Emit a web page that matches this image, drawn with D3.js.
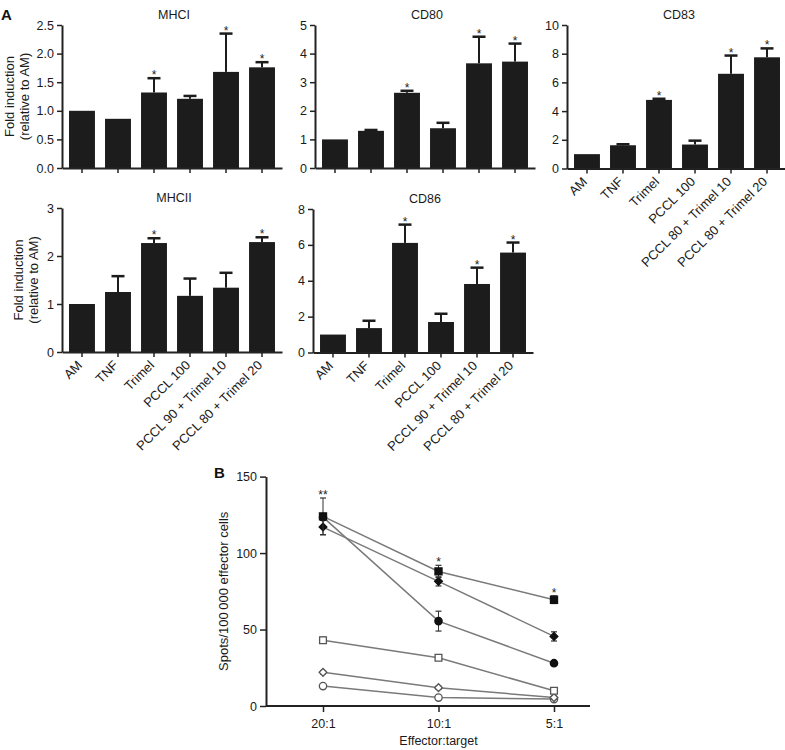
<!doctype html>
<html>
<head>
<meta charset="utf-8">
<style>
  body { margin: 0; background: #fff; }
  svg { display: block; font-family: "Liberation Sans", Arial, sans-serif; }
  .tick text { fill: #1a1a1a; }
</style>
<script src="https://d3js.org/d3.v7.min.js"></script>
</head>
<body>
<svg width="785" height="750"></svg>
<script>
// ---- data, panel A ----
var categories = ["AM", "TNF", "Trimel", "PCCL 100", "PCCL 90 + Trimel 10", "PCCL 80 + Trimel 20"];
var categoriesCD83 = ["AM", "TNF", "Trimel", "PCCL 100", "PCCL 80 + Trimel 10", "PCCL 80 + Trimel 20"];

var mhciValues = [1.0, 0.86, 1.32, 1.21, 1.68, 1.76];
var mhciErrors = [0, 0, 0.25, 0.05, 0.67, 0.09];
var mhciStars  = [0, 0, 1, 0, 1, 1];
var mhciTicks  = [0, 0.5, 1.0, 1.5, 2.0, 2.5];

var cd80Values = [1.0, 1.30, 2.63, 1.39, 3.66, 3.72];
var cd80Errors = [0, 0.03, 0.07, 0.19, 0.93, 0.63];
var cd80Stars  = [0, 0, 1, 0, 1, 1];
var cd80Ticks  = [0, 1, 2, 3, 4, 5];

var cd83Values = [1.0, 1.62, 4.78, 1.67, 6.6, 7.75];
var cd83Errors = [0, 0.07, 0.08, 0.27, 1.27, 0.62];
var cd83Stars  = [0, 0, 1, 0, 1, 1];
var cd83Ticks  = [0, 2, 4, 6, 8, 10];

var mhciiValues = [1.0, 1.25, 2.27, 1.17, 1.34, 2.29];
var mhciiErrors = [0, 0.33, 0.10, 0.36, 0.31, 0.10];
var mhciiStars  = [0, 0, 1, 0, 0, 1];
var mhciiTicks  = [0, 1, 2, 3];

var cd86Values = [1.0, 1.36, 6.11, 1.70, 3.82, 5.57];
var cd86Errors = [0, 0.41, 1.02, 0.46, 0.91, 0.56];
var cd86Stars  = [0, 0, 1, 0, 1, 1];
var cd86Ticks  = [0, 2, 4, 6, 8];

// ---- data, panel B ----
var ratios = ["20:1", "10:1", "5:1"];
var bTicks = [0, 50, 100, 150];
var filledCircle  = [123.5, 55.5, 28];   var filledCircleErr  = [2, 6.5, 1.5];
var filledSquare  = [124, 88, 69.5];     var filledSquareErr  = [12, 4, 2.5];
var filledDiamond = [117, 81.5, 45.5];   var filledDiamondErr = [5, 3, 3];
var openSquare    = [43, 31.5, 10];      var openSquareErr    = [2, 1.5, 1.5];
var openDiamond   = [22, 12, 5.5];       var openDiamondErr   = [1, 1, 1];
var openCircle    = [13, 5.5, 4.5];      var openCircleErr    = [1, 1, 0.5];
var bStars = ["**", "*", "*"];

var svg = d3.select("svg");

function barPanel(o) {
    var g = svg.append("g");
    var x = d3.scaleBand().domain(o.cats).range([o.left, o.left + 220])
        .paddingInner(0.28).paddingOuter(0.195);
    var y = d3.scaleLinear().domain([0, o.max]).range([o.bottom, o.top]);

    // bars
    g.selectAll(".bar").data(o.values).enter().append("rect")
        .attr("x", function(d, i) { return x(o.cats[i]); })
        .attr("y", function(d) { return y(d); })
        .attr("width", x.bandwidth())
        .attr("height", function(d) { return o.bottom - y(d); })
        .attr("fill", "#1c1c1c");

    // error bars (upper only)
    var cap = 6.5;
    o.values.forEach(function(v, i) {
        var cx = x(o.cats[i]) + x.bandwidth() / 2;
        if (o.errors[i] > 0) {
            g.append("line").attr("x1", cx).attr("x2", cx)
                .attr("y1", y(v)).attr("y2", y(v + o.errors[i]))
                .attr("stroke", "#1c1c1c").attr("stroke-width", 2);
            g.append("line").attr("x1", cx - cap).attr("x2", cx + cap)
                .attr("y1", y(v + o.errors[i])).attr("y2", y(v + o.errors[i]))
                .attr("stroke", "#1c1c1c").attr("stroke-width", 2.5);
        }
        if (o.stars[i]) {
            g.append("text").attr("x", cx).attr("y", y(v + o.errors[i]) + 1)
                .attr("text-anchor", "middle").attr("font-size", "12px")
                .attr("fill", "#222").text("*");
        }
    });

    // axes
    var ya = g.append("g").attr("transform", "translate(" + o.left + ",0)")
        .call(d3.axisLeft(y).tickValues(o.ticks).tickFormat(d3.format(o.fmt))
            .tickSize(5).tickSizeOuter(0));
    var xa = g.append("g").attr("transform", "translate(0," + o.bottom + ")")
        .call(d3.axisBottom(x).tickSize(5).tickSizeOuter(0));
    [ya, xa].forEach(function(a) {
        a.select(".domain").attr("stroke", "#222").attr("stroke-width", 2);
        a.selectAll(".tick line").attr("stroke", "#222").attr("stroke-width", 1.5);
    });
    ya.selectAll(".tick text").attr("font-size", "12.5px").attr("font-family", null).attr("x", -8);
    if (o.labels) {
        xa.selectAll(".tick text")
            .attr("font-size", "13px").attr("font-family", null)
            .attr("text-anchor", "end")
            .attr("dy", null).attr("y", 0)
            .attr("transform", "translate(1,14) rotate(-45)");
    } else {
        xa.selectAll(".tick text").remove();
    }

    g.append("text").attr("x", o.left + 112).attr("y", o.top - 6)
        .attr("text-anchor", "middle").attr("font-size", "12.5px").attr("fill", "#1a1a1a")
        .text(o.title);

    if (o.ylab) {
        var cy = (o.top + o.bottom) / 2;
        g.append("text").attr("transform", "translate(" + o.ylab[0] + "," + cy + ") rotate(-90)")
            .attr("text-anchor", "middle").attr("font-size", "13px").attr("fill", "#1a1a1a")
            .text("Fold induction");
        g.append("text").attr("transform", "translate(" + o.ylab[1] + "," + cy + ") rotate(-90)")
            .attr("text-anchor", "middle").attr("font-size", "13px").attr("fill", "#1a1a1a")
            .text("(relative to AM)");
    }
}

barPanel({title: "MHCI", cats: categories, values: mhciValues, errors: mhciErrors, stars: mhciStars,
    ticks: mhciTicks, fmt: ".1f", max: 2.5, left: 62, top: 25, bottom: 168, labels: false, ylab: [14, 29]});
barPanel({title: "CD80", cats: categories, values: cd80Values, errors: cd80Errors, stars: cd80Stars,
    ticks: cd80Ticks, fmt: "d", max: 5, left: 315, top: 25, bottom: 168, labels: false});
barPanel({title: "CD83", cats: categoriesCD83, values: cd83Values, errors: cd83Errors, stars: cd83Stars,
    ticks: cd83Ticks, fmt: "d", max: 10, left: 567, top: 25, bottom: 168.5, labels: true});
barPanel({title: "MHCII", cats: categories, values: mhciiValues, errors: mhciiErrors, stars: mhciiStars,
    ticks: mhciiTicks, fmt: "d", max: 3, left: 62, top: 208, bottom: 352, labels: true, ylab: [23, 38]});
barPanel({title: "CD86", cats: categories, values: cd86Values, errors: cd86Errors, stars: cd86Stars,
    ticks: cd86Ticks, fmt: "d", max: 8, left: 313, top: 209, bottom: 352.5, labels: true});

svg.append("text").attr("x", 1).attr("y", 20).attr("font-size", "15px")
    .attr("font-weight", "bold").attr("fill", "#111").text("A");

// ---- panel B ----
var bLeft = 266, bRight = 590, bTop = 476.6, bBottom = 706;
var xb = d3.scalePoint().domain(ratios).range([323, 554]);
var yb = d3.scaleLinear().domain([0, 150]).range([bBottom, bTop]);
var gb = svg.append("g");

var series = [
    {v: openCircle, e: openCircleErr, shape: d3.symbolCircle, size: 42, rot: 0, fill: "#fff"},
    {v: openDiamond, e: openDiamondErr, shape: d3.symbolSquare, size: 30, rot: 45, fill: "#fff"},
    {v: openSquare, e: openSquareErr, shape: d3.symbolSquare, size: 46, rot: 0, fill: "#fff"},
    {v: filledCircle, e: filledCircleErr, shape: d3.symbolCircle, size: 42, rot: 0, fill: "#111"},
    {v: filledDiamond, e: filledDiamondErr, shape: d3.symbolSquare, size: 30, rot: 45, fill: "#111"},
    {v: filledSquare, e: filledSquareErr, shape: d3.symbolSquare, size: 50, rot: 0, fill: "#111"}
];

var line = d3.line().x(function(d, i) { return xb(ratios[i]); }).y(function(d) { return yb(d); });
series.forEach(function(s) {
    gb.append("path").attr("d", line(s.v)).attr("fill", "none")
        .attr("stroke", "#7a7a7a").attr("stroke-width", 1.5);
});
series.forEach(function(s) {
    s.v.forEach(function(v, i) {
        var cx = xb(ratios[i]);
        var ends = [v + s.e[i], v - s.e[i]];
        gb.append("line").attr("x1", cx).attr("x2", cx)
            .attr("y1", yb(ends[0])).attr("y2", yb(ends[1]))
            .attr("stroke", "#333").attr("stroke-width", 1);
        ends.forEach(function(e) {
            gb.append("line").attr("x1", cx - 3).attr("x2", cx + 3)
                .attr("y1", yb(e)).attr("y2", yb(e))
                .attr("stroke", "#333").attr("stroke-width", 1.2);
        });
    });
    gb.selectAll(null).data(s.v).enter().append("path")
        .attr("d", d3.symbol().type(s.shape).size(s.size))
        .attr("transform", function(d, i) {
            return "translate(" + xb(ratios[i]) + "," + yb(d) + ") rotate(" + s.rot + ")";
        })
        .attr("fill", s.fill).attr("stroke", s.fill === "#fff" ? "#555" : "#111")
        .attr("stroke-width", 1.3);
});

// stars above highest error
ratios.forEach(function(r, i) {
    var top = d3.max(series, function(s) { return s.v[i] + s.e[i]; });
    gb.append("text").attr("x", xb(r)).attr("y", yb(top) + 1)
        .attr("text-anchor", "middle").attr("font-size", "12px").attr("fill", "#222")
        .text(bStars[i]);
});

var yax = gb.append("g").attr("transform", "translate(" + bLeft + ",0)")
    .call(d3.axisLeft(yb).tickValues(bTicks).tickSize(6).tickSizeOuter(0));
var xax = gb.append("g").attr("transform", "translate(0," + bBottom + ")")
    .call(d3.axisBottom(xb).tickSize(6).tickSizeOuter(0));
xax.select(".domain").remove();
gb.append("line").attr("x1", bLeft).attr("x2", bRight).attr("y1", bBottom).attr("y2", bBottom)
    .attr("stroke", "#222").attr("stroke-width", 2);
[yax, xax].forEach(function(a) {
    a.select(".domain").attr("stroke", "#222").attr("stroke-width", 2);
    a.selectAll(".tick line").attr("stroke", "#222").attr("stroke-width", 1.5);
    a.selectAll(".tick text").attr("font-size", "12.5px").attr("font-family", null);
});
yax.selectAll(".tick text").attr("x", -9);
xax.selectAll(".tick text").attr("y", 13);

gb.append("text").attr("x", xb("10:1")).attr("y", 745)
    .attr("text-anchor", "middle").attr("font-size", "12.5px").attr("fill", "#1a1a1a")
    .text("Effector:target");
gb.append("text").attr("transform", "translate(228," + (bTop + bBottom) / 2 + ") rotate(-90)")
    .attr("text-anchor", "middle").attr("font-size", "13px").attr("fill", "#1a1a1a")
    .text("Spots/100\u2009000 effector cells");
svg.append("text").attr("x", 214).attr("y", 478).attr("font-size", "15px")
    .attr("font-weight", "bold").attr("fill", "#111").text("B");
</script>
</body>
</html>
